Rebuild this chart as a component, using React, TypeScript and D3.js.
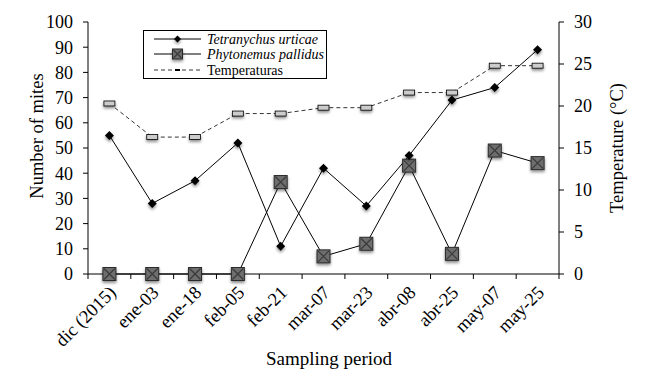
import React from "react";
import * as d3 from "d3";

const periods = ["dic (2015)", "ene-03", "ene-18", "feb-05", "feb-21", "mar-07", "mar-23", "abr-08", "abr-25", "may-07", "may-25"];
const tetranychus = [55, 28, 37, 52, 11, 42, 27, 47, 69, 74, 89];
const phytonemus = [0, 0, 0, 0, 36.5, 7, 12, 43, 8, 49, 44];
const temperatures = [20.3, 16.3, 16.3, 19.1, 19.1, 19.8, 19.8, 21.6, 21.6, 24.8, 24.8];
const miteTicks = [0, 10, 20, 30, 40, 50, 60, 70, 80, 90, 100];
const tempTicks = [0, 5, 10, 15, 20, 25, 30];

const W = 646;
const H = 384;
const m = { left: 88, right: 559, top: 22, bottom: 274 };
const font = "'Liberation Serif', 'Times New Roman', serif";

const App = () => {
  const x = d3.scaleBand().domain(periods).range([m.left, m.right]);
  const yL = d3.scaleLinear().domain([0, 100]).range([m.bottom, m.top]);
  const yR = d3.scaleLinear().domain([0, 30]).range([m.bottom, m.top]);
  const cx = (p: string) => (x(p) as number) + x.bandwidth() / 2;

  const lineL = d3.line<number>().x((_, i) => cx(periods[i])).y((d) => yL(d));
  const lineR = d3.line<number>().x((_, i) => cx(periods[i])).y((d) => yR(d));

  const bounds = periods.map((p) => x(p) as number).concat([m.right]);

  const square = (k: string, px: number, py: number, s: number) => (
    <g key={k} filter="url(#sh)">
      <rect x={px - s / 2} y={py - s / 2} width={s} height={s} fill="#6e6e6e" stroke="#2a2a2a" strokeWidth={1} />
      <path d={`M${px - s / 2 + 1},${py - s / 2 + 1}L${px + s / 2 - 1},${py + s / 2 - 1}M${px + s / 2 - 1},${py - s / 2 + 1}L${px - s / 2 + 1},${py + s / 2 - 1}`} stroke="#3a3a3a" strokeWidth={1.2} />
    </g>
  );
  const diamond = (k: string, px: number, py: number, r: number) => (
    <path key={k} filter="url(#sh)" d={`M${px},${py - r}L${px + r},${py}L${px},${py + r}L${px - r},${py}Z`} fill="#000" />
  );
  const tempMark = (k: string, px: number, py: number) => (
    <rect key={k} filter="url(#sh)" x={px - 5.5} y={py - 2.5} width={11} height={5} fill="#ccc" stroke="#000" strokeWidth={0.8} />
  );

  return (
    <svg width={W} height={H} style={{ position: "absolute", left: 0, top: 0, background: "#fff", fontFamily: font }}>
      <defs>
        <filter id="sh" x="-100%" y="-100%" width="300%" height="300%">
          <feDropShadow dx="0" dy="2" stdDeviation="1.8" floodColor="#000" floodOpacity="0.45" />
        </filter>
      </defs>

      {/* temperature */}
      <path d={lineR(temperatures) as string} fill="none" stroke="#000" strokeWidth={0.8} strokeDasharray="4,3" />
      {/* mites */}
      <path d={lineL(tetranychus) as string} fill="none" stroke="#000" strokeWidth={1} />
      <path d={lineL(phytonemus) as string} fill="none" stroke="#000" strokeWidth={1} />

      {temperatures.map((d, i) => tempMark("t" + i, cx(periods[i]), yR(d)))}

      {/* axes */}
      <line x1={m.left} x2={m.left} y1={m.top} y2={m.bottom} stroke="#000" />
      <line x1={m.right} x2={m.right} y1={m.top} y2={m.bottom} stroke="#000" />
      <line x1={m.left} x2={m.right} y1={m.bottom} y2={m.bottom} stroke="#000" />
      {miteTicks.map((t) => (
        <g key={"l" + t}>
          <line x1={m.left - 5} x2={m.left} y1={yL(t)} y2={yL(t)} stroke="#000" />
          <text x={m.left - 15} y={yL(t)} dy="0.35em" textAnchor="end" fontSize={18}>{t}</text>
        </g>
      ))}
      {tempTicks.map((t) => (
        <g key={"r" + t}>
          <line x1={m.right} x2={m.right + 5} y1={yR(t)} y2={yR(t)} stroke="#000" />
          <text x={m.right + 15} y={yR(t)} dy="0.35em" textAnchor="start" fontSize={18}>{t}</text>
        </g>
      ))}
      {bounds.map((b, i) => (
        <line key={"b" + i} x1={b} x2={b} y1={m.bottom} y2={m.bottom + 5} stroke="#000" />
      ))}
      {periods.map((p) => (
        <text key={p} transform={`translate(${cx(p) + 3},${m.bottom + 15}) rotate(-45)`} textAnchor="end" dy="0.35em" fontSize={18.5}>{p}</text>
      ))}

      {phytonemus.map((d, i) => square("p" + i, cx(periods[i]), yL(d), 13))}
      {tetranychus.map((d, i) => diamond("d" + i, cx(periods[i]), yL(d), 4.5))}

      <text transform={`translate(43,136) rotate(-90)`} textAnchor="middle" fontSize={18.5}>Number of mites</text>
      <text transform={`translate(623,148) rotate(-90)`} textAnchor="middle" fontSize={18.5}>Temperature (°C)</text>
      <text x={329} y={365} textAnchor="middle" fontSize={19}>Sampling period</text>

      {/* legend */}
      <g>
        <rect x={143.5} y={30.5} width={183} height={48} fill="#fff" stroke="#000" />
        <line x1={154} x2={201} y1={39} y2={39} stroke="#000" />
        {diamond("ld", 177.5, 39, 3.5)}
        <text x={207} y={39} dy="0.35em" fontSize={14} fontStyle="italic">Tetranychus urticae</text>
        <line x1={154} x2={201} y1={54} y2={54} stroke="#000" />
        {square("ls", 177.5, 54, 10)}
        <text x={207} y={54} dy="0.35em" fontSize={14} fontStyle="italic">Phytonemus pallidus</text>
        <line x1={154} x2={201} y1={70} y2={70} stroke="#000" strokeWidth={0.8} strokeDasharray="4,3" />
        <line x1={175} x2={180} y1={70} y2={70} stroke="#000" strokeWidth={2} />
        <text x={207} y={70} dy="0.35em" fontSize={14}>Temperaturas</text>
      </g>
    </svg>
  );
};

export default App;
